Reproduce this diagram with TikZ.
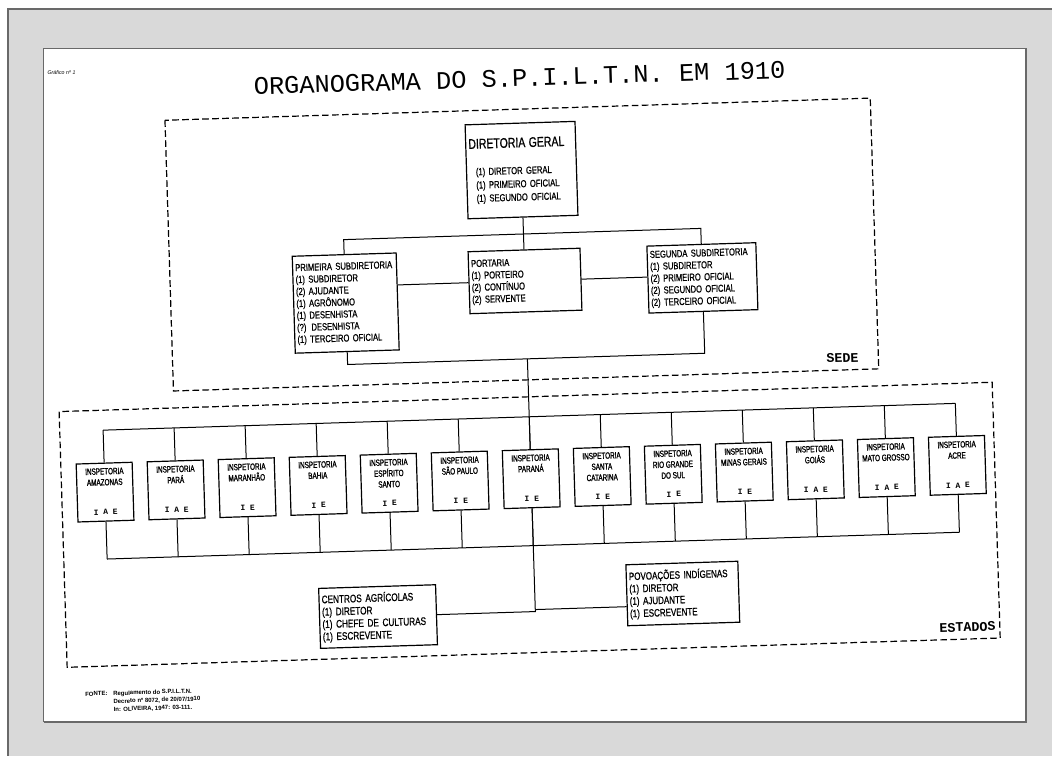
\documentclass[tikz,border=0pt]{standalone}
\usepackage{fontspec}
\setmainfont{Liberation Sans}
\newfontfamily\boxfont[FakeStretch=0.75, FakeBold=0.8]{Liberation Sans}
\newfontfamily\inspfont[FakeStretch=0.7, FakeBold=1.2]{Liberation Sans}
\newfontfamily\typefont{Liberation Mono}
\usetikzlibrary{calc}
\definecolor{framegray}{RGB}{217,217,217}
\definecolor{edgegray}{RGB}{105,105,105}

\begin{document}
\begin{tikzpicture}[
        x=0.75pt, y=-0.75pt,
        unit/.style={rectangle, draw=black, fill=white, line width=0.9pt, inner xsep=2pt, inner ysep=1pt, align=left, font=\boxfont\fontsize{7.6}{9}\selectfont},
        insp/.style={rectangle, draw=black, fill=white, line width=0.9pt, minimum width=42pt, minimum height=43.5pt, inner sep=0pt},
        insptext/.style={inner sep=0pt, align=center, font=\inspfont\fontsize{6.8}{8.2}\selectfont},
        inspcode/.style={inner sep=0pt, font=\typefont\bfseries\fontsize{6}{7}\selectfont},
        area/.style={draw=black, line width=0.9pt, dash pattern=on 5pt off 2.5pt},
        arealabel/.style={inner sep=0pt, font=\typefont\bfseries\fontsize{10}{12}\selectfont},
        link/.style={draw=black, line width=0.75pt},
        source/.style={anchor=north west, inner sep=0pt, align=left, font=\bfseries\fontsize{4.5}{6}\selectfont}
    ]
        % Frame
        \fill[white] (0,0) rectangle (1053,756);
        \fill[framegray] (8,9) rectangle (1053,756);
        \draw[edgegray, line width=0.8pt] (8,756) -- (8,9) -- (1053,9);
        \draw[edgegray, fill=white, line width=0.6pt] (43,48) rectangle (1027,722);
        \draw[edgegray, line width=1.5pt] (1027,49) -- (1027,722) -- (44,722);
        \useasboundingbox (0,0) rectangle (1053,756);

        \begin{scope}[rotate around={1.8:(530,400)}, transform shape]
        % Heading
        \node[inner sep=0pt, font=\itshape\fontsize{4}{5}\selectfont] (grafico) at (72,58) {Gráfico nº 1};
        \node[font=\typefont\fontsize{19}{22}\selectfont] (titulo) at (530,78) {ORGANOGRAMA DO S.P.I.L.T.N. EM 1910};

        % Areas
        \draw[area] (174,109) rectangle (880,380);
        \draw[area] (59,397) rectangle (993,653);
        \node[arealabel] (sede) at (844,368) {SEDE};
        \node[arealabel, anchor=east] (estados) at (989,641) {ESTADOS};

        % Nodes
        \node[unit, text width=78.5pt, minimum height=70.5pt, font=\boxfont\fontsize{7.6}{10}\selectfont] (diretoria_geral) at (529,170)
            {{\fontsize{10.5}{12}\selectfont DIRETORIA GERAL}\\[10pt]
             \hspace*{5pt}(1) DIRETOR GERAL\\ \hspace*{5pt}(1) PRIMEIRO OFICIAL\\ \hspace*{5pt}(1) SEGUNDO OFICIAL};
        \node[unit, text width=74pt, minimum height=72.75pt] (primeira_sub) at (349,297.5)
            {PRIMEIRA SUBDIRETORIA\\(1) SUBDIRETOR\\(2) AJUDANTE\\(1) AGRÔNOMO\\(1) DESENHISTA\\(?) DESENHISTA\\(1) TERCEIRO OFICIAL};
        \node[unit, text width=80pt, minimum height=46.5pt] (portaria) at (529,281)
            {PORTARIA\\(1) PORTEIRO\\(2) CONTÍNUO\\(2) SERVENTE};
        \node[unit, text width=77.75pt, minimum height=50.25pt] (segunda_sub) at (706.5,283.5)
            {SEGUNDA SUBDIRETORIA\\(1) SUBDIRETOR\\(2) PRIMEIRO OFICIAL\\(2) SEGUNDO OFICIAL\\(2) TERCEIRO OFICIAL};

        \foreach \i/\nome/\cod in {1/AMAZONAS/I A E, 2/PARÁ/I A E, 3/MARANHÃO/I E, 4/BAHIA/I E,
                5/{ESPÍRITO\\SANTO}/I E, 6/SÃO PAULO/I E, 7/PARANÁ/I E, 8/{SANTA\\CATARINA}/I E,
                9/{RIO GRANDE\\DO SUL}/I E, 10/MINAS GERAIS/I E, 11/GOIÁS/I A E, 12/MATO GROSSO/I A E, 13/ACRE/I A E} {
            \node[insp] (insp\i) at ({529+71.1*(\i-7)},479) {};
            \node[insptext, anchor=north] (insp\i_nome) at ([yshift=-4pt]insp\i.north) {INSPETORIA\\\nome};
            \node[inspcode, anchor=south] (insp\i_cod) at ([yshift=5pt]insp\i.south) {\cod};
        }

        \node[unit, text width=83.75pt, minimum height=45pt, font=\boxfont\fontsize{8.2}{9.3}\selectfont] (centros) at (371.5,612)
            {CENTROS AGRÍCOLAS\\(1) DIRETOR\\(1) CHEFE DE CULTURAS\\(1) ESCREVENTE};
        \node[unit, text width=80pt, minimum height=45.75pt, font=\boxfont\fontsize{8}{9.3}\selectfont] (povoacoes) at (677,598.5)
            {POVOAÇÕES INDÍGENAS\\(1) DIRETOR\\(1) AJUDANTE\\(1) ESCREVENTE};

        \coordinate (sede_top) at (529,234);
        \coordinate (sede_bottom) at (529,359);
        \coordinate (estados_top) at (529,417);
        \coordinate (estados_bottom) at (529,546);
        \coordinate (juncao) at (529,610);

        % Edges
        \draw[link] (diretoria_geral.south) -- (portaria.north);
        \draw[link] (primeira_sub.north) -- (primeira_sub.north |- sede_top) -- (segunda_sub.north |- sede_top) -- (segunda_sub.north);
        \draw[link] (portaria.west) -- (portaria.west -| primeira_sub.east);
        \draw[link] (portaria.east) -- (portaria.east -| segunda_sub.west);
        \draw[link] (primeira_sub.south) -- (primeira_sub.south |- sede_bottom) -- (segunda_sub.south |- sede_bottom) -- (segunda_sub.south);
        \draw[link] (sede_bottom) -- (insp7.north);

        \draw[link] (insp1.north |- estados_top) -- (insp13.north |- estados_top);
        \draw[link] (insp1.south |- estados_bottom) -- (insp13.south |- estados_bottom);
        \foreach \i in {1,...,13} {
            \draw[link] (insp\i.north) -- (insp\i.north |- estados_top);
            \draw[link] (insp\i.south) -- (insp\i.south |- estados_bottom);
        }
        \draw[link] (insp7.south) -- (juncao);
        \draw[link] (centros.east) -- (centros.east -| juncao) -- (juncao);
        \draw[link] (juncao) -- (juncao -| povoacoes.west);

        % Source
        \node[source] (fonte) at (76,678) {FONTE:};
        \node[source] (fonte_ref) at (104,678)
            {Regulamento do S.P.I.L.T.N.\\Decreto nº 8072, de 20/07/1910\\In: OLIVEIRA, 1947: 03-111.};
        \end{scope}
    \end{tikzpicture}
\end{document}
